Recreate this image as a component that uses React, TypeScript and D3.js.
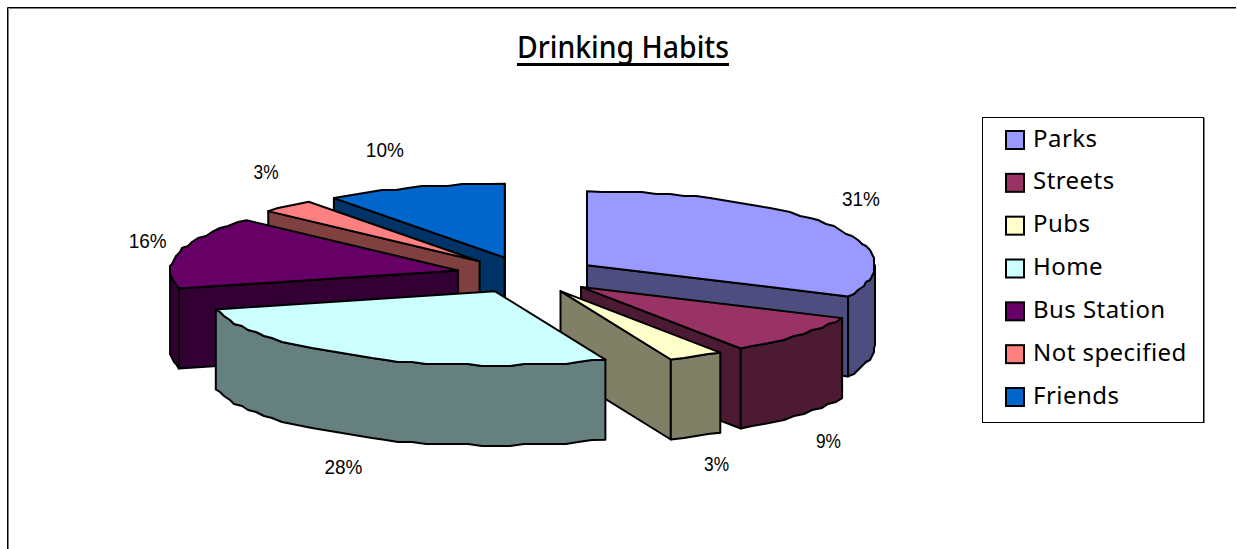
import React from "react";
import * as d3 from "d3";

const categories = ["Parks", "Streets", "Pubs", "Home", "Bus Station", "Not specified", "Friends"];
const sliceShares = [31.9, 8.7, 3.1, 27.3, 15.8, 3.0, 10.1];
// Data labels as printed on the chart
const percentLabels = ["31%", "9%", "3%", "28%", "16%", "3%", "10%"];
const topColors = ["#9999FF", "#993366", "#FFFFCC", "#CCFFFF", "#660066", "#FF8080", "#0066CC"];
const sideColors = ["#4D4D80", "#4D1A33", "#808066", "#668080", "#330033", "#804040", "#003366"];
// Painter's order (back to front), as indices into the arrays above
const drawOrder = [0, 6, 5, 4, 1, 2, 3];
const labelRadius = [1.12, 1.32, 1.6, 1.32, 1.08, 1.3, 1.2];
const labelShiftX = [2, -41, -61, 19, -9, 36, -12];
const labelShiftY = [-20, 92, 70, 90, -8, -16, -22];

const W = 1237, H = 549;
const cx = 527, cy = 275, rx = 288, ry = 74, depth = 80, explode = 0.247;
const x = d3.scaleLinear().domain([-1, 1]).range([cx - rx, cx + rx]);
const y = d3.scaleLinear().domain([-1, 1]).range([cy - ry, cy + ry]);
const line = d3.line<[number, number]>().curve(d3.curveLinear);

const arcs = d3.pie<number>().sort(null)(sliceShares);

type Pt = [number, number];
const wob = (v: number) => Math.round(v / 2) * 2;

function rim(a0: number, a1: number, ox: number, oy: number, dz = 0): Pt[] {
  const n = Math.max(2, Math.ceil((a1 - a0) / 0.05));
  return d3.range(n + 1).map((i) => {
    const a = a0 + ((a1 - a0) * i) / n;
    const px = x(ox + Math.sin(a));
    const py = y(oy - Math.cos(a)) + dz;
    return i === 0 || i === n ? [px, py] as Pt : [wob(px), wob(py)] as Pt;
  });
}

function Slice({ i }: { i: number }) {
  const d = arcs[i];
  const a0 = d.startAngle, a1 = d.endAngle;
  const m = (a0 + a1) / 2;
  const ox = explode * Math.sin(m), oy = -explode * Math.cos(m);
  const ax = x(ox), ay = y(oy);
  const top = rim(a0, a1, ox, oy);
  const walls: Pt[][] = [];
  const wall = (a: number) => {
    const p: Pt = [x(ox + Math.sin(a)), y(oy - Math.cos(a))];
    walls.push([[ax, ay], p, [p[0], p[1] + depth], [ax, ay + depth]]);
  };
  if (Math.cos(a0 - Math.PI / 2) < 0) wall(a0);
  if (Math.cos(a1 + Math.PI / 2) < 0) wall(a1);
  const s = Math.max(a0, Math.PI / 2), e = Math.min(a1, (3 * Math.PI) / 2);
  const common = { stroke: "#000", strokeWidth: 2, strokeLinejoin: "round" as const };
  return (
    <g>
      {walls.map((w, k) => (
        <path key={k} d={line(w) + "Z"} fill={sideColors[i]} {...common} />
      ))}
      {s < e && (
        <path
          d={line([...rim(s, e, ox, oy), ...rim(s, e, ox, oy, depth).reverse()]) + "Z"}
          fill={sideColors[i]}
          {...common}
        />
      )}
      <path d={line([[ax, ay], ...top]) + "Z"} fill={topColors[i]} {...common} />
    </g>
  );
}

export default function App() {
  const labels = arcs.map((d, i) => {
    const m = (d.startAngle + d.endAngle) / 2;
    const ox = explode * Math.sin(m), oy = -explode * Math.cos(m);
    return {
      lx: x(ox + labelRadius[i] * Math.sin(m)) + labelShiftX[i],
      ly: y(oy - labelRadius[i] * Math.cos(m)) + labelShiftY[i],
      t: percentLabels[i],
    };
  });
  const legendY = d3.scalePoint<string>().domain(categories).range([139.5, 396.5]);
  return (
    <svg width={W} height={H} style={{ position: "absolute", left: 0, top: 0 }}>
      <rect width={W} height={H} fill="#fff" />
      <path d={`M8.5 ${H}V8.5H${W - 1}`} fill="none" stroke="#808080" strokeWidth={1} />
      <path d={`M7.5 ${H}V7.5H${W - 1}`} fill="none" stroke="#000" strokeWidth={1} />
      <text x={517} y={58} textLength={212} lengthAdjust="spacingAndGlyphs" fontFamily="Noto Sans" fontSize={30} fontWeight={500}>Drinking Habits</text>
      <rect x={517} y={63} width={212} height={3} fill="#000" />
      {drawOrder.map((i) => <Slice key={i} i={i} />)}
      {labels.map((l, i) => (
        <text key={i} x={l.lx} y={l.ly} textAnchor="middle" dominantBaseline="middle" textLength={l.t.length === 3 ? 38 : 25} lengthAdjust="spacingAndGlyphs" fontFamily="Liberation Sans" fontSize={20} fill="#000">{l.t}</text>
      ))}
      <rect x={982.5} y={117.5} width={221} height={305} fill="#fff" stroke="#000" />
      <rect x={1204} y={118} width={1} height={305} fill="#808080" />
      {categories.map((c, i) => (
        <g key={c}>
          <rect x={1006} y={legendY(c)! - 8.5} width={18} height={18} fill={topColors[i]} stroke="#000" strokeWidth={2} />
          <text x={1033} y={legendY(c)! + 7} fontFamily="Noto Sans" fontSize={24} letterSpacing={0.45} fill="#000">{c}</text>
        </g>
      ))}
    </svg>
  );
}
